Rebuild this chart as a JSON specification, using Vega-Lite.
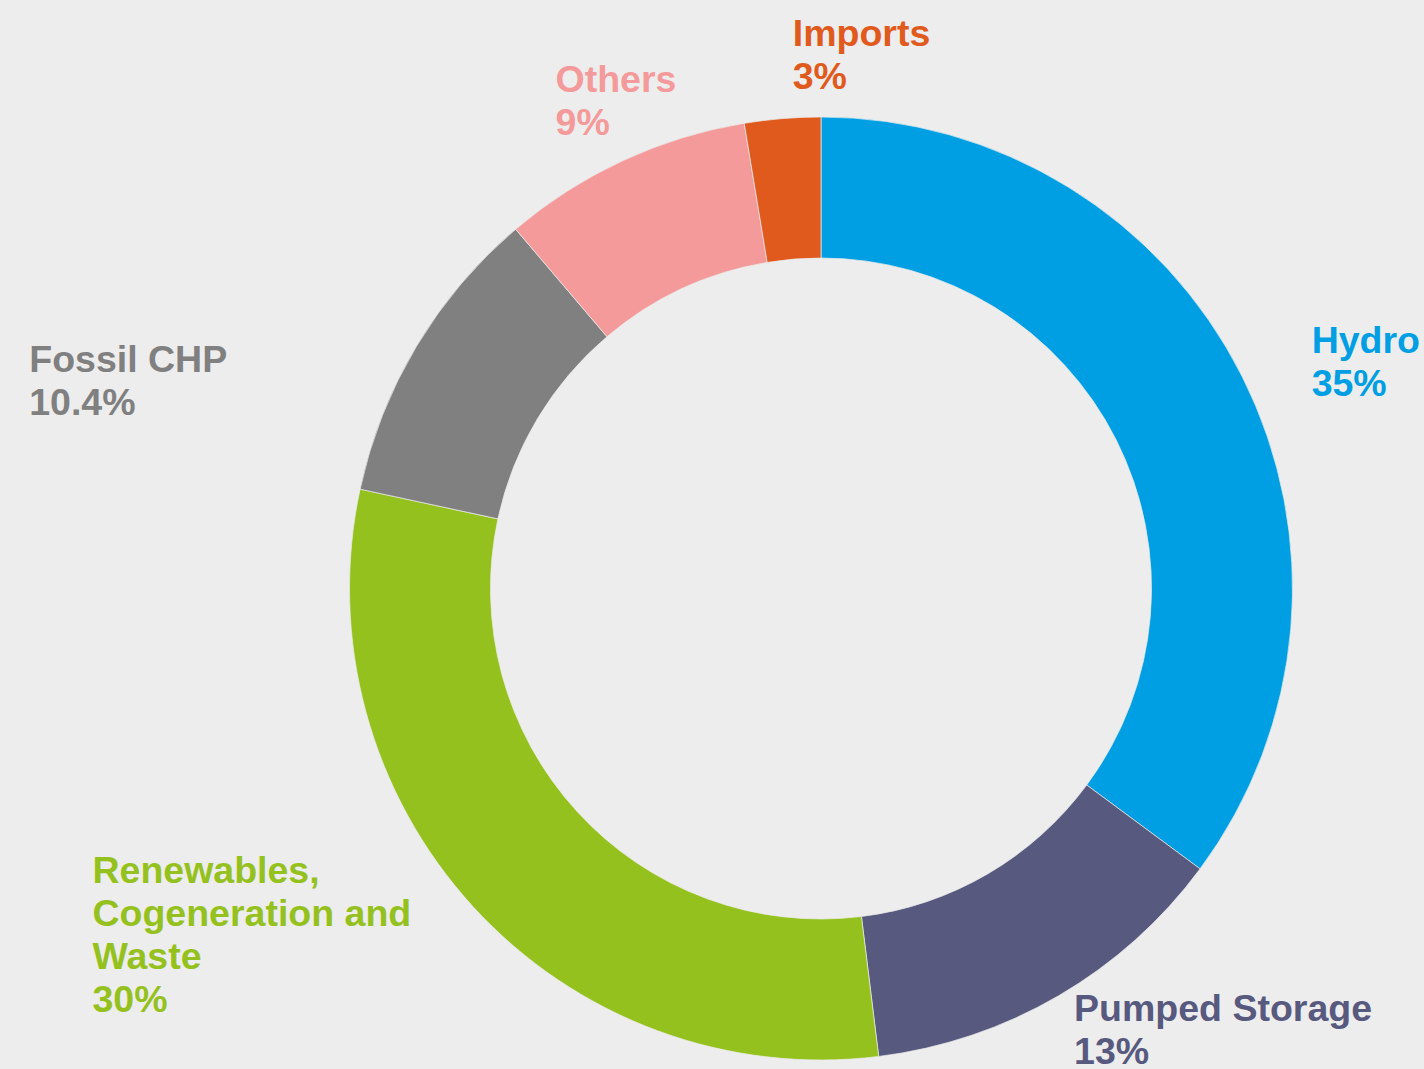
{
  "$schema": "https://vega.github.io/schema/vega-lite/v6.json",
  "width": 1000,
  "height": 961,
  "autosize": {"type": "none"},
  "padding": {"left": 321, "top": 108, "right": 103, "bottom": 0},
  "background": "#ededed",
  "data": {
    "values": [
      {"rank": 1, "cat": "Hydro", "value": 35.1, "label": "Hydro\n35%"},
      {"rank": 2, "cat": "Pumped Storage", "value": 12.9, "label": "Pumped Storage\n13%"},
      {"rank": 3, "cat": "Renewables, Cogeneration and Waste", "value": 30.3, "label": "Renewables,\nCogeneration and\nWaste\n30%"},
      {"rank": 4, "cat": "Fossil CHP", "value": 10.4, "label": "Fossil CHP\n10.4%"},
      {"rank": 5, "cat": "Others", "value": 8.6, "label": "Others\n9%"},
      {"rank": 6, "cat": "Imports", "value": 2.6, "label": "Imports\n3%"}
    ]
  },
  "encoding": {
    "theta": {"field": "value", "type": "quantitative", "stack": true},
    "order": {"field": "rank", "type": "quantitative"},
    "color": {
      "field": "cat",
      "type": "nominal",
      "legend": null,
      "scale": {
        "domain": ["Hydro", "Pumped Storage", "Renewables, Cogeneration and Waste", "Fossil CHP", "Others", "Imports"],
        "range": ["#009fe3", "#57597f", "#95c11f", "#808080", "#f49a9a", "#e05a1e"]
      }
    }
  },
  "layer": [
    {"mark": {"type": "arc", "radius": 471.5, "innerRadius": 330.5, "stroke": "#ededed", "strokeWidth": 0.7}},
    {"mark": {"type": "text", "radius": 545, "dx": 4, "dy": 10},
     "encoding": {"text": {"condition": {"test": "datum.cat === 'Hydro'", "field": "label"}, "value": ""}}},
    {"mark": {"type": "text", "radius": 500, "dx": 1, "dy": 1},
     "encoding": {"text": {"condition": {"test": "datum.cat === 'Pumped Storage'", "field": "label"}, "value": ""}}},
    {"mark": {"type": "text", "radius": 540, "dx": -330, "dy": -70},
     "encoding": {"text": {"condition": {"test": "datum.cat === 'Renewables, Cogeneration and Waste'", "field": "label"}, "value": ""}}},
    {"mark": {"type": "text", "radius": 530, "dx": -337, "dy": 56},
     "encoding": {"text": {"condition": {"test": "datum.cat === 'Fossil CHP'", "field": "label"}, "value": ""}}},
    {"mark": {"type": "text", "radius": 560, "dx": -30, "dy": 12},
     "encoding": {"text": {"condition": {"test": "datum.cat === 'Others'", "field": "label"}, "value": ""}}},
    {"mark": {"type": "text", "radius": 542, "dx": 16, "dy": -2},
     "encoding": {"text": {"condition": {"test": "datum.cat === 'Imports'", "field": "label"}, "value": ""}}}
  ],
  "config": {
    "view": {"stroke": null},
    "text": {
      "font": "Liberation Sans",
      "fontSize": 37.5,
      "fontWeight": "bold",
      "align": "left",
      "baseline": "alphabetic",
      "lineBreak": "\n",
      "lineHeight": 43
    }
  }
}
